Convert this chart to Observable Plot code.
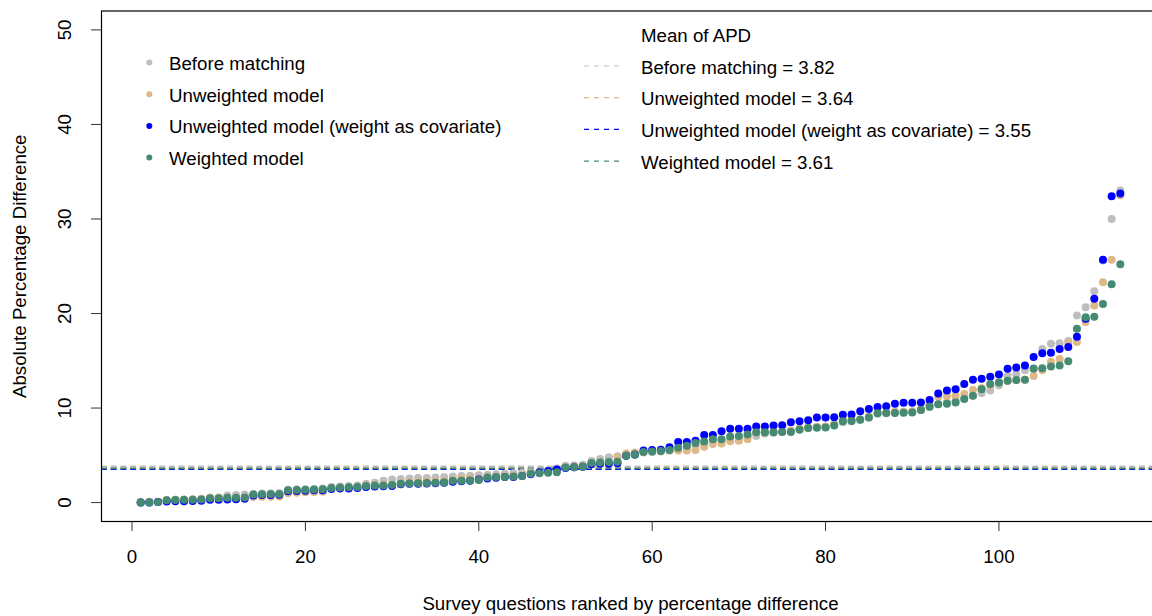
<!DOCTYPE html>
<html>
<head>
<meta charset="utf-8">
<script src="https://cdn.jsdelivr.net/npm/d3@7"></script>
<script src="https://cdn.jsdelivr.net/npm/@observablehq/plot@0.6"></script>
<style>
  body { margin: 0; background: #fff; }
  #chart { width: 1152px; height: 616px; }
</style>
</head>
<body>
<div id="chart"></div>
<script>
// Absolute percentage difference per survey question, each series ranked ascending
const seriesNames = [
  "Before matching",
  "Unweighted model",
  "Unweighted model (weight as covariate)",
  "Weighted model"
];
const seriesColors = ["#BEBEBE", "#DEB887", "#0000FF", "#458B74"];

const beforeMatching = [
  0.00, 0.05, 0.10, 0.25, 0.30, 0.30, 0.35, 0.40, 0.50, 0.55,
  0.75, 0.80, 0.85, 0.90, 0.95, 0.95, 1.00, 1.35, 1.40, 1.40,
  1.45, 1.50, 1.65, 1.70, 1.75, 1.80, 2.00, 2.10, 2.30, 2.45,
  2.50, 2.55, 2.60, 2.60, 2.65, 2.70, 2.75, 2.80, 2.85, 2.90,
  2.95, 3.00, 3.05, 3.10, 3.15, 3.20, 3.30, 3.40, 3.60, 3.90,
  3.95, 4.00, 4.40, 4.60, 4.80, 4.90, 5.00, 5.10, 5.30, 5.35,
  5.40, 5.50, 5.60, 5.80, 6.00, 6.20, 6.50, 6.60, 6.80, 6.90,
  7.00, 7.05, 7.30, 7.40, 7.50, 7.60, 7.80, 7.90, 8.00, 8.05,
  8.20, 8.50, 8.60, 8.80, 9.00, 9.40, 9.45, 9.50, 9.55, 9.60,
  9.80, 10.10, 10.40, 10.60, 10.80, 11.00, 11.30, 11.60, 11.85, 12.40,
  13.40, 13.60, 14.00, 14.20, 16.25, 16.80, 16.85, 17.10, 19.80, 20.65,
  22.35, 25.60, 30.00, 33.00
];

const unweightedModel = [
  0.05, 0.08, 0.10, 0.28, 0.30, 0.30, 0.32, 0.35, 0.50, 0.50,
  0.52, 0.55, 0.58, 0.60, 0.62, 0.62, 0.65, 1.00, 1.05, 1.10,
  1.12, 1.15, 1.55, 1.58, 1.60, 1.62, 1.80, 1.85, 1.88, 1.90,
  2.10, 2.15, 2.20, 2.20, 2.25, 2.28, 2.45, 2.50, 2.55, 2.55,
  2.70, 2.75, 2.80, 2.85, 2.90, 3.10, 3.20, 3.25, 3.30, 3.75,
  3.80, 3.85, 4.10, 4.15, 4.30, 4.80, 5.20, 5.30, 5.40, 5.45,
  5.50, 5.50, 5.50, 5.50, 5.55, 5.90, 6.20, 6.25, 6.50, 6.55,
  6.70, 7.40, 7.45, 7.50, 7.50, 7.60, 7.80, 7.95, 8.00, 8.00,
  8.30, 8.70, 8.75, 8.80, 9.10, 9.50, 9.50, 9.60, 9.60, 9.65,
  9.90, 10.30, 11.20, 11.25, 11.30, 11.50, 11.90, 12.10, 12.40, 12.70,
  12.85, 12.95, 13.00, 13.40, 14.00, 14.90, 15.20, 16.90, 17.00, 19.10,
  20.85, 23.30, 25.70, 32.50
];

const weightAsCovariate = [
  0.00, 0.00, 0.05, 0.12, 0.15, 0.15, 0.17, 0.20, 0.30, 0.30,
  0.32, 0.35, 0.40, 0.75, 0.80, 0.80, 0.82, 1.20, 1.22, 1.25,
  1.30, 1.30, 1.45, 1.50, 1.50, 1.55, 1.65, 1.70, 1.72, 1.75,
  1.95, 2.00, 2.00, 2.02, 2.05, 2.10, 2.20, 2.25, 2.30, 2.45,
  2.55, 2.62, 2.70, 2.72, 2.80, 3.00, 3.20, 3.35, 3.50, 3.65,
  3.75, 3.80, 4.05, 4.10, 4.12, 4.15, 4.95, 5.10, 5.50, 5.55,
  5.60, 5.85, 6.40, 6.40, 6.55, 7.15, 7.15, 7.55, 7.80, 7.80,
  7.82, 8.05, 8.05, 8.15, 8.17, 8.50, 8.60, 8.70, 9.00, 9.00,
  9.02, 9.30, 9.32, 9.65, 9.90, 10.10, 10.20, 10.45, 10.55, 10.57,
  10.60, 10.85, 11.55, 11.85, 12.00, 12.55, 13.00, 13.10, 13.30, 13.55,
  14.15, 14.30, 14.50, 15.40, 15.80, 15.85, 16.25, 16.45, 17.55, 19.45,
  21.55, 25.70, 32.40, 32.70
];

const weightedModel = [
  0.00, 0.00, 0.05, 0.25, 0.28, 0.30, 0.30, 0.32, 0.45, 0.47,
  0.50, 0.50, 0.55, 0.85, 0.88, 0.90, 0.90, 1.30, 1.32, 1.35,
  1.38, 1.40, 1.55, 1.60, 1.62, 1.65, 1.75, 1.80, 1.82, 1.85,
  2.00, 2.02, 2.05, 2.08, 2.10, 2.12, 2.30, 2.32, 2.35, 2.40,
  2.65, 2.70, 2.72, 2.75, 2.80, 3.05, 3.10, 3.15, 3.20, 3.70,
  3.75, 3.78, 4.20, 4.25, 4.30, 4.32, 4.95, 5.05, 5.35, 5.40,
  5.45, 5.55, 5.80, 6.00, 6.30, 6.45, 6.70, 6.70, 7.00, 7.05,
  7.20, 7.44, 7.45, 7.45, 7.46, 7.48, 7.70, 7.90, 7.92, 7.95,
  8.15, 8.60, 8.62, 8.75, 9.00, 9.45, 9.47, 9.48, 9.50, 9.52,
  9.80, 10.15, 10.40, 10.45, 10.60, 10.97, 11.30, 12.00, 12.55, 12.70,
  12.90, 12.97, 13.00, 14.15, 14.20, 14.40, 14.50, 14.95, 18.40, 19.60,
  19.65, 21.00, 23.10, 25.20
];

// Mean APD for each series
const meanAPD = [3.82, 3.64, 3.55, 3.61];

const xTicks = [0, 20, 40, 60, 80, 100];
const yTicks = [0, 10, 20, 30, 40, 50];
const xTitle = "Survey questions ranked by percentage difference";
const yTitle = "Absolute Percentage Difference";
const meanTitle = "Mean of APD";

// Tidy rows for Plot
const allSeries = [beforeMatching, unweightedModel, weightAsCovariate, weightedModel];
const points = [];
allSeries.forEach((vals, s) => {
  vals.forEach((v, i) => points.push({rank: i + 1, apd: v, series: seriesNames[s]}));
});
// the covariate line goes underneath the others
const meanOrder = [2, 0, 1, 3];
const meanRows = meanOrder.map(s => ({series: seriesNames[s], mean: meanAPD[s]}));

const FONT = "'Liberation Sans', Arial, Helvetica, sans-serif";
const FS = 18.7;

// R-style padded domains (4% either side)
const n = beforeMatching.length;
const xPad = (n - 1) * 0.04;
const xDomain = [1 - xPad, n + xPad];
const yDomain = [0 - 50 * 0.04, 50 + 50 * 0.04];

const chart = Plot.plot({
  width: 1152,
  height: 616,
  marginLeft: 101,
  marginRight: -7,
  marginTop: 10.5,
  marginBottom: 95,
  style: {fontFamily: FONT, fontSize: FS + "px", background: "#fff", color: "#000", overflow: "hidden"},
  x: {domain: xDomain},
  y: {domain: yDomain},
  color: {domain: seriesNames, range: seriesColors},
  marks: [
    Plot.ruleY(meanRows, {y: "mean", stroke: "series", strokeWidth: 1.8, strokeDasharray: "6,3.7"}),
    Plot.dot(points, {x: "rank", y: "apd", fill: "series", r: 4}),
    Plot.frame({stroke: "#000", strokeWidth: 1.2}),
    Plot.axisX({ticks: xTicks, tickSize: 10, tickPadding: 18, label: null, fontSize: FS, stroke: "#333"}),
    Plot.axisY({ticks: yTicks, tickSize: 10, tickFormat: () => "", label: null, stroke: "#333"}),
    Plot.text(yTicks, {y: d => d, text: d => String(d), frameAnchor: "left", dx: -36, rotate: -90,
      textAnchor: "middle", lineAnchor: "middle", fontSize: FS, fill: "#000"}),
    Plot.text([yTitle], {frameAnchor: "left", dx: -81, rotate: -90, textAnchor: "middle",
      lineAnchor: "middle", fontSize: FS, fill: "#000"}),
    Plot.text([xTitle], {frameAnchor: "bottom", dy: 82.5, textAnchor: "middle",
      lineAnchor: "middle", fontSize: FS, fill: "#000"})
  ]
});

document.getElementById("chart").appendChild(chart);

// Legends drawn inside the plot panel
const svg = d3.select(chart);

const left = svg.append("g")
  .attr("font-family", FONT).attr("font-size", FS).attr("text-anchor", "start");
seriesNames.forEach((name, k) => {
  const cy = 62.5 + 31.7 * k;
  left.append("circle").attr("cx", 149.3).attr("cy", cy).attr("r", 3).attr("fill", seriesColors[k]);
  left.append("text").attr("x", 169).attr("y", cy + 1).attr("dy", "0.35em").attr("fill", "#000").text(name);
});

const right = svg.append("g")
  .attr("font-family", FONT).attr("font-size", FS).attr("text-anchor", "start");
right.append("text").attr("x", 641).attr("y", 35).attr("dy", "0.35em").attr("fill", "#000").text(meanTitle);
seriesNames.forEach((name, k) => {
  const cy = 66 + 31.7 * k;
  right.append("line").attr("x1", 584).attr("x2", 620).attr("y1", cy).attr("y2", cy)
    .attr("stroke", seriesColors[k]).attr("stroke-width", 1.2).attr("stroke-dasharray", "5,5");
  right.append("text").attr("x", 641).attr("y", cy + 1).attr("dy", "0.35em").attr("fill", "#000")
    .text(`${name} = ${meanAPD[k].toFixed(2)}`);
});
</script>
</body>
</html>
